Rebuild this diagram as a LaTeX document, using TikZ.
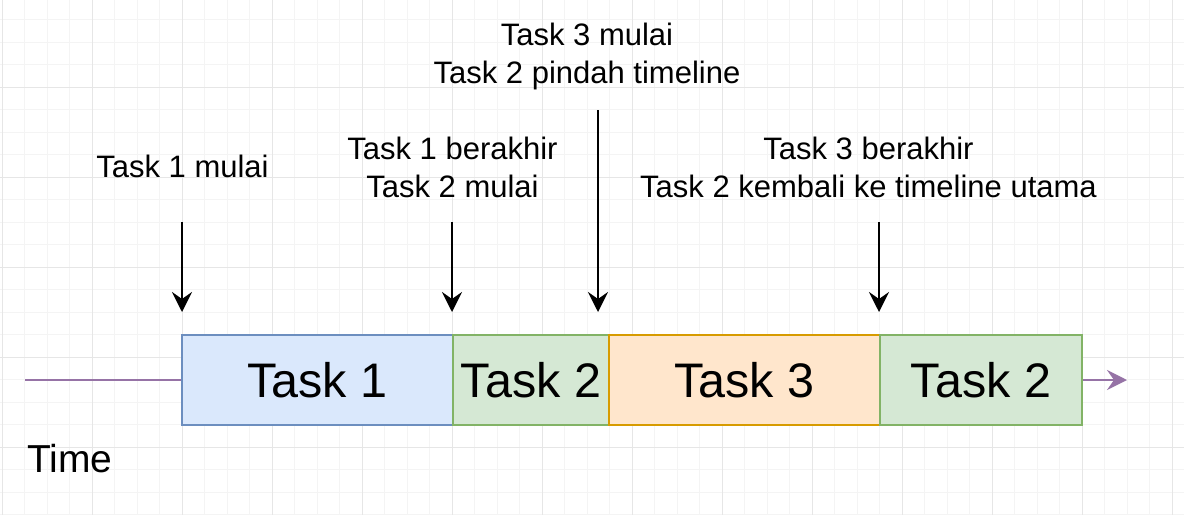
\documentclass[tikz,border=0pt]{standalone}
\usepackage{fontspec}
\setmainfont{Liberation Sans}
\usetikzlibrary{arrows.meta}
\definecolor{gridminor}{HTML}{F4F4F4}
\definecolor{gridmajor}{HTML}{E6E6E6}
\definecolor{bluefill}{HTML}{DAE8FC}
\definecolor{bluedraw}{HTML}{6C8EBF}
\definecolor{greenfill}{HTML}{D5E8D4}
\definecolor{greendraw}{HTML}{82B366}
\definecolor{orangefill}{HTML}{FFE6CC}
\definecolor{orangedraw}{HTML}{D79B00}
\definecolor{timepurple}{HTML}{9673A6}
\tikzset{
  taskbox/.style={draw, line width=2.2pt, minimum height=90pt, inner sep=0pt, font=\fontsize{48.5}{58}\selectfont},
  lbl/.style={align=center, inner sep=0pt, font=\fontsize{31}{38}\selectfont},
  evarrow/.style={line width=2.4pt, -{Stealth[length=20pt, width=20pt, inset=7pt]}},
  timeline/.style={timepurple, line width=2.4pt},
}
\begin{document}
\begin{tikzpicture}[x=1pt, y=-1pt]
\useasboundingbox (0,0) rectangle (1184,515);
\fill[white] (0,0) rectangle (1184,515);
% grid
\foreach \i in {0,...,52} {
  \draw[gridminor, line width=1pt] ({2.3+22.5*\i},0) -- ({2.3+22.5*\i},515);
}
\foreach \i in {0,...,23} {
  \draw[gridminor, line width=1pt] (0,{-2.7+22.5*\i}) -- (1184,{-2.7+22.5*\i});
}
\foreach \i in {0,...,13} {
  \draw[gridmajor, line width=1pt] ({2.3+90*\i},0) -- ({2.3+90*\i},515);
}
\foreach \i in {1,...,5} {
  \draw[gridmajor, line width=1pt] (0,{-2.7+90*\i}) -- (1184,{-2.7+90*\i});
}
% task boxes
\node[taskbox, fill=bluefill, draw=bluedraw, minimum width=271pt] (t1) at (317.5,380) {Task 1};
\node[taskbox, fill=greenfill, draw=greendraw, minimum width=156pt] (t2) at (531,380) {Task 2};
\node[taskbox, fill=orangefill, draw=orangedraw, minimum width=271pt] (t3) at (744.5,380) {Task 3};
\node[taskbox, fill=greenfill, draw=greendraw, minimum width=202pt] (t4) at (981,380) {Task 2};
% timeline
\coordinate (tstart) at (25,380);
\coordinate (tend) at (1127,380);
\draw[timeline] (tstart) -- (t1.west);
\draw[timeline, -{Stealth[length=20pt, width=20pt, inset=7pt]}] (t4.east) -- (tend);
\node[inner sep=0pt, anchor=west, font=\fontsize{39}{46}\selectfont] (time) at (27,459) {Time};
% labels
\node[lbl] (l1) at (182.5,166) {Task 1 mulai};
\node[lbl] (l2) at (452.5,167.5) {Task 1 berakhir\\Task 2 mulai};
\node[lbl] (l3) at (587,56) {Task 3 mulai\\Task 2 pindah timeline};
\node[lbl] (l4) at (868.5,167.5) {Task 3 berakhir\\Task 2 kembali ke timeline utama};
% event arrows
\coordinate (a1s) at (182,222);
\coordinate (a1e) at (182,312);
\coordinate (a2s) at (452,222);
\coordinate (a2e) at (452,312);
\coordinate (a3s) at (598,110);
\coordinate (a3e) at (598,312);
\coordinate (a4s) at (879,222);
\coordinate (a4e) at (879,312);
\draw[evarrow] (a1s) -- (a1e);
\draw[evarrow] (a2s) -- (a2e);
\draw[evarrow] (a3s) -- (a3e);
\draw[evarrow] (a4s) -- (a4e);
\end{tikzpicture}
\end{document}
